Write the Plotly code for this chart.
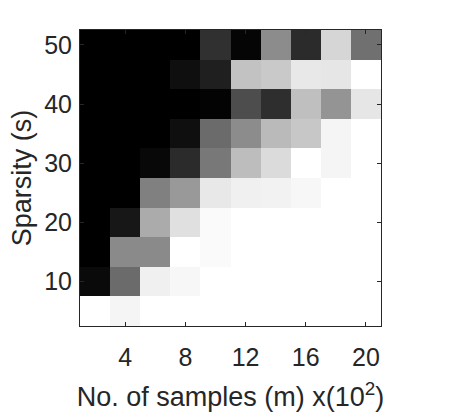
import plotly.graph_objects as go

m_vals = [2, 4, 6, 8, 10, 12, 14, 16, 18, 20]
s_vals = [5, 10, 15, 20, 25, 30, 35, 40, 45, 50]

# success rate, rows from s=5 (bottom) to s=50 (top)
rate = [
    [1.00, 0.96, 1.00, 1.00, 1.00, 1.00, 1.00, 1.00, 1.00, 1.00],
    [0.04, 0.42, 0.94, 0.97, 1.00, 1.00, 1.00, 1.00, 1.00, 1.00],
    [0.00, 0.54, 0.54, 1.00, 0.98, 1.00, 1.00, 1.00, 1.00, 1.00],
    [0.00, 0.09, 0.67, 0.88, 0.98, 1.00, 1.00, 1.00, 1.00, 1.00],
    [0.00, 0.00, 0.50, 0.60, 0.91, 0.94, 0.95, 0.97, 1.00, 1.00],
    [0.00, 0.00, 0.03, 0.17, 0.47, 0.74, 0.86, 1.00, 0.96, 1.00],
    [0.00, 0.00, 0.00, 0.06, 0.42, 0.55, 0.73, 0.78, 0.96, 1.00],
    [0.00, 0.00, 0.00, 0.00, 0.01, 0.30, 0.18, 0.75, 0.58, 0.90],
    [0.00, 0.00, 0.00, 0.06, 0.12, 0.76, 0.79, 0.91, 0.90, 1.00],
    [0.00, 0.00, 0.00, 0.00, 0.19, 0.02, 0.55, 0.17, 0.84, 0.44],
]

x_ticks = [4, 8, 12, 16, 20]
y_ticks = [10, 20, 30, 40, 50]

fig = go.Figure(go.Heatmap(
    x=m_vals, y=s_vals, z=rate,
    zmin=0, zmax=1,
    colorscale=[[0, "rgb(0,0,0)"], [1, "rgb(255,255,255)"]],
    showscale=False,
))

font_fam = "Liberation Sans, Arial, sans-serif"
axis_common = dict(
    showline=True, linecolor="#262626", linewidth=1, mirror="ticks",
    ticks="inside", ticklen=4, tickcolor="#262626",
    showgrid=False, zeroline=False,
    tickfont=dict(family=font_fam, size=25, color="#262626"),
)

fig.update_layout(
    width=457, height=419,
    margin=dict(l=80, r=76, t=30, b=91),
    paper_bgcolor="white", plot_bgcolor="white",
    xaxis=dict(range=[1, 21], tickvals=x_ticks, ticklabelstandoff=9,
               title=dict(text="No. of samples (m) x(10<sup>2</sup>)",
                          font=dict(family=font_fam, size=27, color="#262626"),
                          standoff=17),
               **axis_common),
    yaxis=dict(range=[2.5, 52.5], tickvals=y_ticks, ticklabelstandoff=2,
               title=dict(text="Sparsity (s)",
                          font=dict(family=font_fam, size=27, color="#262626"),
                          standoff=4),
               **axis_common),
)

fig.write_html("out.html")
